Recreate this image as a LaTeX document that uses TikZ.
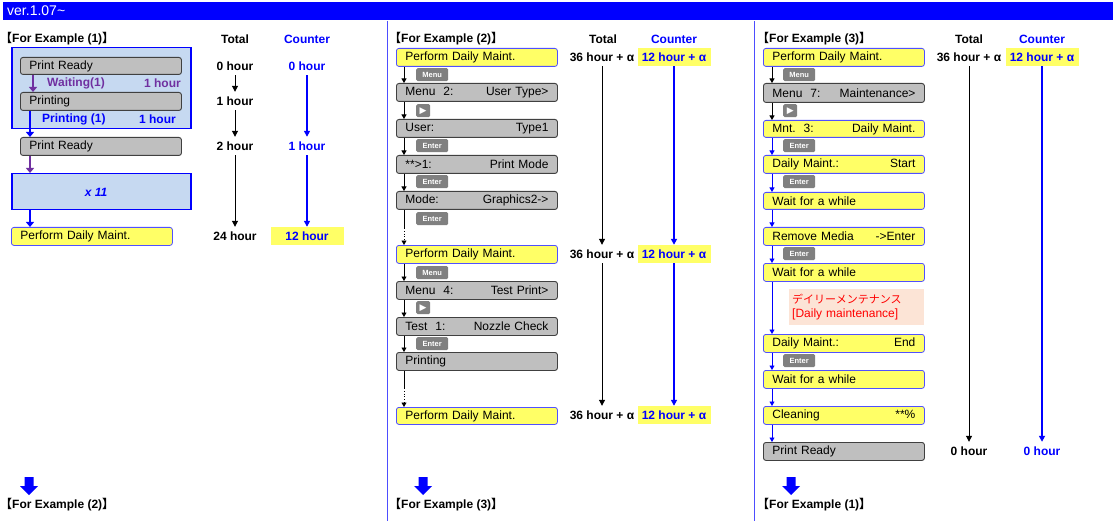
\documentclass[tikz,border=0pt]{standalone}
\usepackage{fontspec}
\setmainfont{Liberation Sans}
\newfontfamily\cjk{Noto Sans CJK JP}
\newfontfamily\djv{DejaVu Sans}
\usetikzlibrary{arrows.meta}
\definecolor{barblue}{HTML}{0000FF}
\definecolor{sepblue}{HTML}{4D4DFF}
\definecolor{boxgray}{HTML}{BFBFBF}
\definecolor{boxedge}{HTML}{404040}
\definecolor{lcdyellow}{HTML}{FFFF66}
\definecolor{yedge}{HTML}{5050FF}
\definecolor{keygray}{HTML}{808080}
\definecolor{panelblue}{HTML}{C6D9F1}
\definecolor{purp}{HTML}{7030A0}
\definecolor{notebg}{HTML}{FCE4D6}
\definecolor{notered}{HTML}{FF0000}
\newcommand{\fsz}[1]{\fontsize{#1}{#1}\selectfont}
\tikzset{
  lcd/.style={rectangle, rounded corners=2.5pt, fill=boxgray, draw=boxedge, line width=0.9pt,
    anchor=north west, minimum width=161pt, minimum height=18pt, text width=143pt,
    inner xsep=9pt, inner ysep=0pt, font=\fsz{12}, align=left},
  lcdy/.style={lcd, fill=lcdyellow, draw=yedge, line width=0.8pt},
  keybtn/.style={rectangle, rounded corners=1.5pt, fill=keygray, anchor=north west,
    minimum width=32pt, minimum height=13pt, inner sep=0pt, text=white, font=\bfseries\fsz{7.5}},
  playbtn/.style={keybtn, minimum width=14pt, font=\djv\fsz{9}},
  grpbox/.style={rectangle, draw=barblue, fill=panelblue, line width=1.5pt, anchor=north west, inner sep=0pt},
  hr/.style={font=\bfseries\fsz{12}, minimum height=18pt, inner sep=0pt},
  hrc/.style={hr, text=barblue},
  hry/.style={hrc, fill=lcdyellow, minimum width=73pt},
  head/.style={font=\bfseries\fsz{12}, inner sep=0pt},
  lbl/.style={font=\bfseries\fsz{12}, inner sep=0pt},
  flow/.style={-{Triangle[length=4.5pt,width=5pt]}, line width=0.8pt},
  tflow/.style={-{Triangle[length=6pt,width=6pt]}, line width=1pt},
  cflow/.style={tflow, draw=barblue, line width=1.5pt},
  bigflow/.style={-{Triangle[length=5pt,width=8pt]}, line width=2.4pt},
  sepline/.style={draw=sepblue, line width=0.8pt},
  notebox/.style={rectangle, fill=notebg, anchor=north west, minimum width=135pt, minimum height=36pt,
    text width=129pt, inner xsep=3pt, inner ysep=0pt, align=left, text=notered, font=\fontsize{12}{14.5}\selectfont},
  downblk/.pic={\fill[barblue] (-4.5,0) -- (4.5,0) -- (4.5,9) -- (9,9) -- (0,18) -- (-9,9) -- (-4.5,9) -- cycle;}
}
\begin{document}
\begin{tikzpicture}[x=1pt,y=-1pt]
\useasboundingbox (0,0) rectangle (1115,521);
\fill[white] (0,0) rectangle (1115,521);
% top bar
\node[fill=barblue, anchor=north west, minimum width=1110pt, minimum height=18pt, inner sep=0pt] (bar) at (3,2) {};
\node[text=white, anchor=west, font=\fsz{14}, inner sep=0pt] (ver) at (7,11) {ver.1.07\textasciitilde};
% separators
\draw[sepline] (387,21) -- (387,521);
\draw[sepline] (754,21) -- (754,521);

% ================= Panel 1 =================
\node[head, anchor=west] (h1) at (0,39) {{\cjk 【}For Example (1){\cjk 】}};
\node[head] (h1t) at (235,39) {Total};
\node[head, text=barblue] (h1c) at (307,39) {Counter};

\node[grpbox, minimum width=179pt, minimum height=81pt] (grp1) at (11,47) {};
\node[lcd, minimum height=17pt] (p1a) at (20,57) {Print Ready};
\node[lcd] (p1b) at (20,92) {Printing};
\node[lcd] (p1c) at (20,137) {Print Ready};
\node[grpbox, minimum width=179pt, minimum height=36pt] (grp2) at (11,173) {};
\node[font=\bfseries\itshape\fsz{12}, text=barblue, inner sep=0pt] (x11) at (96,192) {x 11};
\node[lcdy] (p1d) at (11,227) {Perform Daily Maint.};

\node[lbl, text=purp, anchor=west] (w1) at (47,83) {Waiting(1)};
\node[lbl, text=purp, anchor=east] (w1h) at (181,83) {1 hour};
\node[lbl, text=barblue, anchor=west] (pr1) at (42,119) {Printing (1)};
\node[lbl, text=barblue, anchor=east] (pr1h) at (176,119) {1 hour};

\draw[bigflow, purp] ([xshift=13pt]p1a.south west) -- ([xshift=13pt]p1b.north west);
\draw[bigflow, barblue] ([xshift=10pt]p1b.south west) -- ([xshift=10pt]p1c.north west);
\draw[bigflow, purp] ([xshift=10pt]p1c.south west) -- ([xshift=19pt]grp2.north west);
\draw[bigflow, barblue] ([xshift=19pt]grp2.south west) -- ([xshift=19pt]p1d.north west);

\node[hr] (t10) at (235,66) {0 hour};
\node[hr] (t11) at (235,101) {1 hour};
\node[hr] (t12) at (235,146) {2 hour};
\node[hr] (t13) at (235,236) {24 hour};
\node[hrc] (c10) at (307,66) {0 hour};
\node[hrc] (c11) at (307,146) {1 hour};
\node[hry] (c12) at (307,236) {12 hour};
\draw[tflow] (t10.south) -- (t11.north);
\draw[tflow] (t11.south) -- (t12.north);
\draw[tflow] (t12.south) -- (t13.north);
\draw[cflow] (c10.south) -- (c11.north);
\draw[cflow] (c11.south) -- (c12.north);

\pic at (29,477) {downblk};
\node[head, anchor=west] (n1) at (0,505) {{\cjk 【}For Example (2){\cjk 】}};

% ================= Panel 2 =================
\node[head, anchor=west] (h2) at (389,39) {{\cjk 【}For Example (2){\cjk 】}};
\node[head] (h2t) at (603,39) {Total};
\node[head, text=barblue] (h2c) at (674,39) {Counter};

\node[lcdy] (a1) at (396,48) {Perform Daily Maint.};
\node[keybtn] (a1k) at (416,68) {Menu};
\node[lcd] (a2) at (396,83) {Menu\ \ 2:\hfill User Type>};
\node[playbtn] (a2k) at (416,104) {▶};
\node[lcd] (a3) at (396,119) {User:\hfill Type1};
\node[keybtn] (a3k) at (416,139) {Enter};
\node[lcd] (a4) at (396,155) {**>1:\hfill Print Mode};
\node[keybtn] (a4k) at (416,175) {Enter};
\node[lcd] (a5) at (396,191) {Mode:\hfill Graphics2->};
\node[keybtn] (a5k) at (416,212) {Enter};
\node[lcdy] (a6) at (396,245) {Perform Daily Maint.};
\node[keybtn] (a6k) at (416,266) {Menu};
\node[lcd] (a7) at (396,281) {Menu\ \ 4:\hfill Test Print>};
\node[playbtn] (a7k) at (416,301) {▶};
\node[lcd] (a8) at (396,317) {Test\ \ 1:\hfill Nozzle Check};
\node[keybtn] (a8k) at (416,337) {Enter};
\node[lcd] (a9) at (396,352) {Printing};
\node[lcdy, minimum height=17pt] (a10) at (396,407) {Perform Daily Maint.};

\draw[flow] ([xshift=8pt]a1.south west) -- ([xshift=8pt]a2.north west);
\draw[flow] ([xshift=8pt]a2.south west) -- ([xshift=8pt]a3.north west);
\draw[flow] ([xshift=8pt]a3.south west) -- ([xshift=8pt]a4.north west);
\draw[flow] ([xshift=8pt]a4.south west) -- ([xshift=8pt]a5.north west);
\coordinate (a5m) at (404,228);
\draw[line width=0.8pt] ([xshift=8pt]a5.south west) -- (a5m);
\draw[flow, dotted] (a5m) -- ([xshift=8pt]a6.north west);
\draw[flow] ([xshift=8pt]a6.south west) -- ([xshift=8pt]a7.north west);
\draw[flow] ([xshift=8pt]a7.south west) -- ([xshift=8pt]a8.north west);
\draw[flow] ([xshift=8pt]a8.south west) -- ([xshift=8pt]a9.north west);
\coordinate (a9m) at (404,388);
\draw[line width=0.8pt] ([xshift=8pt]a9.south west) -- (a9m);
\draw[flow, dotted] (a9m) -- ([xshift=8pt]a10.north west);

\node[hr] (t20) at (602,57) {36 hour + α};
\node[hr] (t21) at (602,254) {36 hour + α};
\node[hr] (t22) at (602,415) {36 hour + α};
\node[hry] (c20) at (674,57) {12 hour + α};
\node[hry] (c21) at (674,254) {12 hour + α};
\node[hry] (c22) at (674,415) {12 hour + α};
\draw[tflow] (t20.south) -- (t21.north);
\draw[tflow] (t21.south) -- (t22.north);
\draw[cflow] (c20.south) -- (c21.north);
\draw[cflow] (c21.south) -- (c22.north);

\pic at (423,477) {downblk};
\node[head, anchor=west] (n2) at (389,505) {{\cjk 【}For Example (3){\cjk 】}};

% ================= Panel 3 =================
\node[head, anchor=west] (h3) at (757,39) {{\cjk 【}For Example (3){\cjk 】}};
\node[head] (h3t) at (969,39) {Total};
\node[head, text=barblue] (h3c) at (1042,39) {Counter};

\node[lcdy] (b1) at (763,48) {Perform Daily Maint.};
\node[keybtn] (b1k) at (783,68) {Menu};
\node[lcd, minimum height=19pt] (b2) at (763,83) {Menu\ \ 7:\hfill Maintenance>};
\node[playbtn] (b2k) at (783,104) {▶};
\node[lcdy, minimum height=17pt] (b3) at (763,120) {Mnt.\ \ 3:\hfill Daily Maint.};
\node[keybtn] (b3k) at (783,139) {Enter};
\node[lcdy] (b4) at (763,155) {Daily Maint.:\hfill Start};
\node[keybtn] (b4k) at (783,175) {Enter};
\node[lcdy, minimum height=17pt] (b5) at (763,192) {Wait for a while};
\node[lcdy] (b6) at (763,227) {Remove Media\hfill ->Enter};
\node[keybtn] (b6k) at (783,247) {Enter};
\node[lcdy] (b7) at (763,263) {Wait for a while};
\node[notebox] (b7n) at (789,289) {{\cjk\fontsize{11}{14.5}\selectfont デイリーメンテナンス}\\{[}Daily maintenance{]}};
\node[lcdy] (b8) at (763,334) {Daily Maint.:\hfill End};
\node[keybtn] (b8k) at (783,354) {Enter};
\node[lcdy] (b9) at (763,370) {Wait for a while};
\node[lcdy] (b10) at (763,406) {Cleaning\hfill **\%};
\node[lcd] (b11) at (763,442) {Print Ready};

\draw[flow] ([xshift=9pt]b1.south west) -- ([xshift=9pt]b2.north west);
\draw[flow] ([xshift=9pt]b2.south west) -- ([xshift=9pt]b3.north west);
\draw[flow, barblue] ([xshift=9pt]b3.south west) -- ([xshift=9pt]b4.north west);
\draw[flow, barblue] ([xshift=9pt]b4.south west) -- ([xshift=9pt]b5.north west);
\draw[flow, barblue] ([xshift=9pt]b5.south west) -- ([xshift=9pt]b6.north west);
\draw[flow, barblue] ([xshift=9pt]b6.south west) -- ([xshift=9pt]b7.north west);
\draw[flow, barblue] ([xshift=9pt]b7.south west) -- ([xshift=9pt]b8.north west);
\draw[flow, barblue] ([xshift=9pt]b8.south west) -- ([xshift=9pt]b9.north west);
\draw[flow, barblue] ([xshift=9pt]b9.south west) -- ([xshift=9pt]b10.north west);
\draw[flow, barblue] ([xshift=9pt]b10.south west) -- ([xshift=9pt]b11.north west);

\node[hr] (t30) at (969,57) {36 hour + α};
\node[hry] (c30) at (1042,57) {12 hour + α};
\node[hr] (t31) at (969,451) {0 hour};
\node[hrc] (c31) at (1042,451) {0 hour};
\draw[tflow] (t30.south) -- (t31.north);
\draw[cflow] (c30.south) -- (c31.north);

\pic at (791,477) {downblk};
\node[head, anchor=west] (n3) at (757,505) {{\cjk 【}For Example (1){\cjk 】}};
\end{tikzpicture}
\end{document}
